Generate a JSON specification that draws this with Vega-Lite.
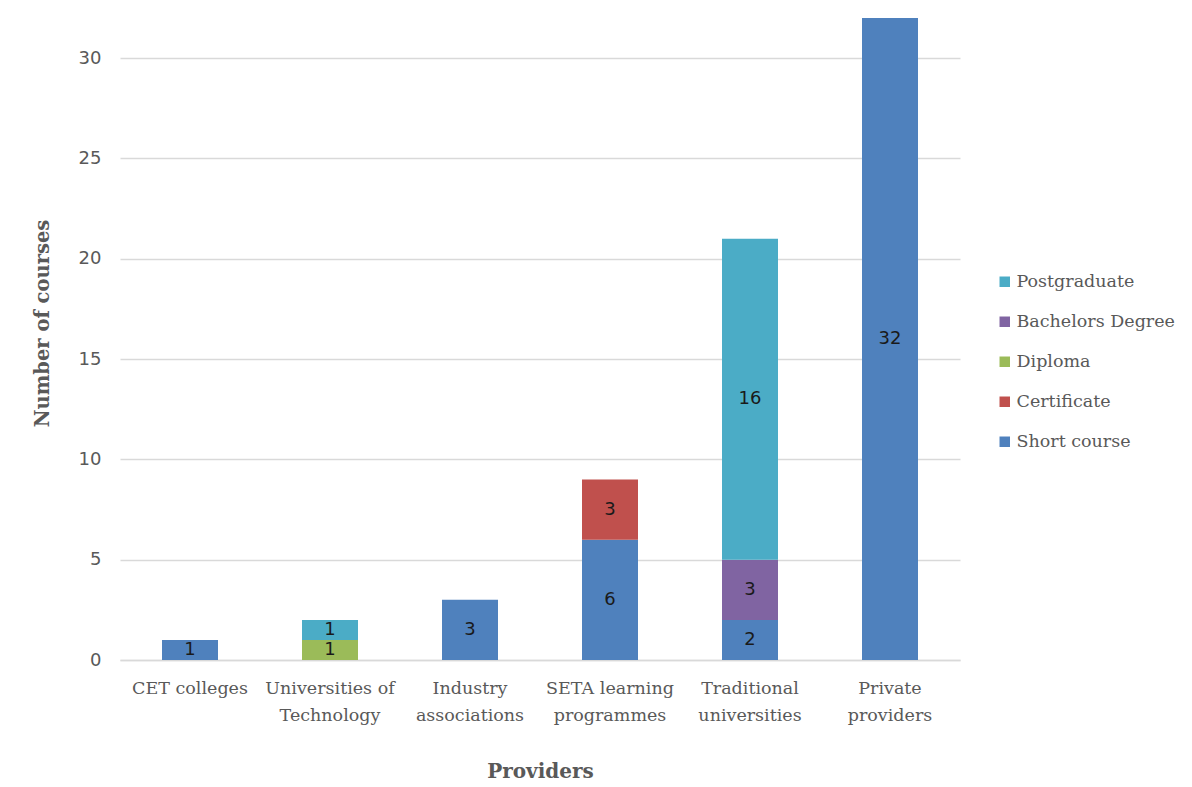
{
  "$schema": "https://vega.github.io/schema/vega-lite/v6.json",
  "autosize": "none",
  "width": 840,
  "height": 642,
  "padding": {"left": 120, "top": 18, "right": 232, "bottom": 127},
  "background": "white",
  "config": {
    "view": {"stroke": null},
    "font": "DejaVu Serif"
  },
  "data": {
    "values": [
      {"provider": "CET colleges", "level": "Short course", "courses": 1},
      {"provider": "Universities of Technology", "level": "Diploma", "courses": 1},
      {"provider": "Universities of Technology", "level": "Postgraduate", "courses": 1},
      {"provider": "Industry associations", "level": "Short course", "courses": 3},
      {"provider": "SETA learning programmes", "level": "Short course", "courses": 6},
      {"provider": "SETA learning programmes", "level": "Certificate", "courses": 3},
      {"provider": "Traditional universities", "level": "Short course", "courses": 2},
      {"provider": "Traditional universities", "level": "Bachelors Degree", "courses": 3},
      {"provider": "Traditional universities", "level": "Postgraduate", "courses": 16},
      {"provider": "Private providers", "level": "Short course", "courses": 32}
    ]
  },
  "transform": [
    {"calculate": "indexof(['Short course','Certificate','Diploma','Bachelors Degree','Postgraduate'], datum.level)", "as": "stackRank"},
    {"stack": "courses", "groupby": ["provider"], "sort": [{"field": "stackRank", "order": "ascending"}], "as": ["y0", "y1"]},
    {"calculate": "(datum.y0 + datum.y1) / 2", "as": "ymid"}
  ],
  "encoding": {
    "x": {
      "field": "provider",
      "type": "nominal",
      "sort": ["CET colleges", "Universities of Technology", "Industry associations", "SETA learning programmes", "Traditional universities", "Private providers"],
      "scale": {"paddingInner": 0.6, "paddingOuter": 0.3},
      "axis": {
        "title": "Providers",
        "titleFont": "DejaVu Serif",
        "titleFontSize": 20,
        "titleFontWeight": "bold",
        "titleColor": "#595959",
        "titlePadding": 38,
        "labelAngle": 0,
        "labelFont": "DejaVu Serif",
        "labelFontSize": 17.5,
        "labelColor": "#595959",
        "labelPadding": 19,
        "labelLineHeight": 27,
        "labelExpr": "{'Universities of Technology': ['Universities of', 'Technology'], 'Industry associations': ['Industry', 'associations'], 'SETA learning programmes': ['SETA learning', 'programmes'], 'Traditional universities': ['Traditional', 'universities'], 'Private providers': ['Private', 'providers']}[datum.label] || datum.label",
        "ticks": false,
        "domainColor": "#D9D9D9",
        "domainWidth": 1.5
      }
    }
  },
  "layer": [
    {
      "mark": {"type": "bar"},
      "encoding": {
        "y": {
          "field": "y1",
          "type": "quantitative",
          "scale": {"domain": [0, 32], "nice": false},
          "axis": {
            "title": "Number of courses",
            "titleFont": "DejaVu Serif",
            "titleFontSize": 19.5,
            "titleFontWeight": "bold",
            "titleColor": "#595959",
            "titlePadding": 26,
            "titleY": 305,
            "values": [0, 5, 10, 15, 20, 25, 30],
            "labelFont": "DejaVu Sans",
            "labelFontSize": 18,
            "labelColor": "#595959",
            "labelPadding": 19,
            "ticks": false,
            "domain": false,
            "gridColor": "#D9D9D9",
            "gridWidth": 1.5
          }
        },
        "y2": {"field": "y0"},
        "color": {
          "field": "level",
          "type": "nominal",
          "scale": {
            "domain": ["Postgraduate", "Bachelors Degree", "Diploma", "Certificate", "Short course"],
            "range": ["#4BACC6", "#8064A2", "#9BBB59", "#C0504D", "#4F81BD"]
          },
          "legend": {
            "title": null,
            "orient": "none",
            "legendX": 876,
            "legendY": 255,
            "symbolType": "square",
            "symbolSize": 110,
            "symbolStrokeWidth": 0,
            "labelFont": "DejaVu Serif",
            "labelFontSize": 17.5,
            "labelColor": "#595959",
            "labelOffset": 3,
            "rowPadding": 21
          }
        }
      }
    },
    {
      "mark": {"type": "text", "font": "DejaVu Sans", "fontSize": 18, "color": "#1a1a1a", "baseline": "middle"},
      "encoding": {
        "y": {"field": "ymid", "type": "quantitative"},
        "text": {"field": "courses", "type": "quantitative"}
      }
    }
  ]
}
